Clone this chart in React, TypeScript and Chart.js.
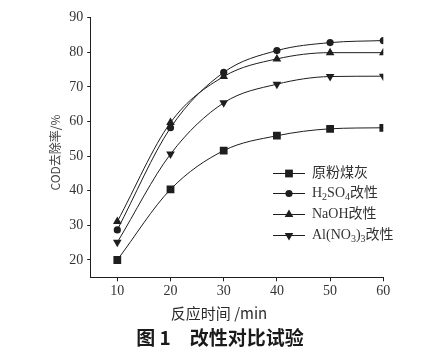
import React, { useEffect, useRef } from 'react';
import { Chart, registerables } from 'chart.js';

Chart.register(...registerables);

const times = [10, 20, 30, 40, 50, 60];
const seriesNames = ['原粉煤灰', 'H₂SO₄改性', 'NaOH改性', 'Al(NO₃)₃改性'];
const rawAsh = [20, 40.4, 51.6, 55.9, 57.9, 58.2];
const h2so4Mod = [28.7, 58.2, 74.2, 80.5, 82.8, 83.4];
const naohMod = [31.1, 59.7, 73.0, 78.1, 79.9, 79.9];
const alno3Mod = [25.1, 50.6, 65.4, 70.8, 73.0, 73.1];
const xTicks = [10, 20, 30, 40, 50, 60];
const yTicks = [20, 30, 40, 50, 60, 70, 80, 90];
const xTitle = '反应时间 /min';
const yTitle = 'COD去除率/%';
const caption = '图 1　改性对比试验';

const seriesValues = [rawAsh, h2so4Mod, naohMod, alno3Mod];
const pointStyles = ['rect', 'circle', 'triangle', 'triangle'];
const pointRotations = [0, 0, 0, 180];
const pointRadii = [5.5, 3.6, 5, 5];

const INK = '#1e1e1e';
const SERIF = "'Liberation Serif', 'Noto Sans CJK SC', serif";
const SANS = "'Noto Sans CJK SC', 'Noto Sans', sans-serif";
const SUBS = '₀₁₂₃₄₅₆₇₈₉';

function drawRichText(ctx: CanvasRenderingContext2D, text: string, x: number, y: number, size: number) {
  let cx = x;
  for (const ch of text) {
    const si = SUBS.indexOf(ch);
    if (si >= 0) {
      ctx.font = `${Math.round(size * 0.68)}px ${SERIF}`;
      ctx.fillText(String(si), cx, y + size * 0.28);
      cx += ctx.measureText(String(si)).width;
    } else {
      ctx.font = `${size}px ${SERIF}`;
      ctx.fillText(ch, cx, y);
      cx += ctx.measureText(ch).width;
    }
  }
}

function drawMarker(ctx: CanvasRenderingContext2D, style: string, rot: number, r: number, x: number, y: number) {
  ctx.beginPath();
  if (style === 'rect') {
    const s = Math.SQRT1_2 * r;
    ctx.rect(x - s, y - s, 2 * s, 2 * s);
  } else if (style === 'circle') {
    ctx.arc(x, y, r, 0, Math.PI * 2);
  } else {
    let a = (rot * Math.PI) / 180;
    for (let k = 0; k < 3; k++) {
      const px = x + Math.sin(a) * r;
      const py = y - Math.cos(a) * r;
      if (k === 0) ctx.moveTo(px, py); else ctx.lineTo(px, py);
      a += (2 * Math.PI) / 3;
    }
    ctx.closePath();
  }
  ctx.fill();
}

const annotations = {
  id: 'annotations',
  afterDraw(chart: any) {
    const ctx: CanvasRenderingContext2D = chart.ctx;
    const area = chart.chartArea;
    ctx.save();
    ctx.fillStyle = '#444';
    ctx.textAlign = 'center';
    ctx.textBaseline = 'middle';
    // y title
    ctx.save();
    ctx.translate(55, (area.top + area.bottom) / 2 + 5);
    ctx.rotate(-Math.PI / 2);
    ctx.font = `12px ${SANS}`;
    ctx.fillText(yTitle, 0, 0);
    ctx.restore();
    // x title
    ctx.fillStyle = '#2a2a2a';
    ctx.font = `15px ${SANS}`;
    ctx.fillText(xTitle, 219, 313);
    // caption
    ctx.fillStyle = '#1a1a1a';
    ctx.font = `bold 19px ${SANS}`;
    ctx.fillText(caption, 220, 338);
    // legend
    const rows = [173, 193, 214, 235];
    ctx.textAlign = 'left';
    ctx.textBaseline = 'middle';
    seriesNames.forEach((name, i) => {
      const y = rows[i];
      ctx.strokeStyle = INK;
      ctx.lineWidth = 1;
      ctx.beginPath();
      ctx.moveTo(273, y + 0.5);
      ctx.lineTo(305, y + 0.5);
      ctx.stroke();
      ctx.fillStyle = INK;
      drawMarker(ctx, pointStyles[i], pointRotations[i], pointRadii[i], 289, y + 0.5);
      ctx.fillStyle = '#333';
      drawRichText(ctx, name, 312, y, 14);
    });
    ctx.restore();
  },
};

export default function App() {
  const ref = useRef<HTMLCanvasElement | null>(null);
  useEffect(() => {
    if (!ref.current) return;
    const chart = new Chart(ref.current, {
      type: 'line',
      data: {
        datasets: seriesNames.map((name, i) => ({
          label: name,
          data: times.map((t, j) => ({ x: t, y: seriesValues[i][j] })),
          borderColor: INK,
          backgroundColor: INK,
          borderWidth: 1,
          pointStyle: pointStyles[i] as any,
          rotation: pointRotations[i],
          pointRadius: pointRadii[i],
          pointBorderWidth: 0,
          pointBackgroundColor: INK,
          cubicInterpolationMode: 'monotone' as const,
          fill: false,
        })),
      },
      options: {
        responsive: false,
        animation: false,
        devicePixelRatio: 1,
        layout: { padding: { left: 0, top: 17.7, right: 64.7, bottom: 0 } },
        plugins: { legend: { display: false }, tooltip: { enabled: false } },
        scales: {
          x: {
            type: 'linear',
            min: 5,
            max: 60,
            afterBuildTicks: (s: any) => {
              s.ticks = xTicks.map((v) => ({ value: v }));
            },
            afterFit: (s: any) => {
              s.height = 74.7;
            },
            grid: { drawOnChartArea: false, drawTicks: true, tickLength: 4, color: INK },
            border: { display: true, color: INK, width: 1 },
            ticks: {
              font: { family: SERIF, size: 14 },
              color: '#333',
              padding: 2,
              maxRotation: 0,
              autoSkip: false,
            },
          },
          y: {
            type: 'linear',
            min: 15,
            max: 90,
            afterBuildTicks: (s: any) => {
              s.ticks = yTicks.map((v) => ({ value: v }));
            },
            afterFit: (s: any) => {
              s.width = 90.7;
            },
            grid: { drawOnChartArea: false, drawTicks: true, tickLength: 3.5, color: INK },
            border: { display: true, color: INK, width: 1 },
            ticks: {
              font: { family: SERIF, size: 14 },
              color: '#333',
              padding: 4,
              autoSkip: false,
            },
          },
        },
      },
      plugins: [annotations],
    });
    return () => chart.destroy();
  }, []);
  return (
    <div style={{ position: 'absolute', left: 0, top: 0, width: 448, height: 352, background: '#fff' }}>
      <canvas ref={ref} width={448} height={352} style={{ display: 'block', width: 448, height: 352 }} />
    </div>
  );
}
